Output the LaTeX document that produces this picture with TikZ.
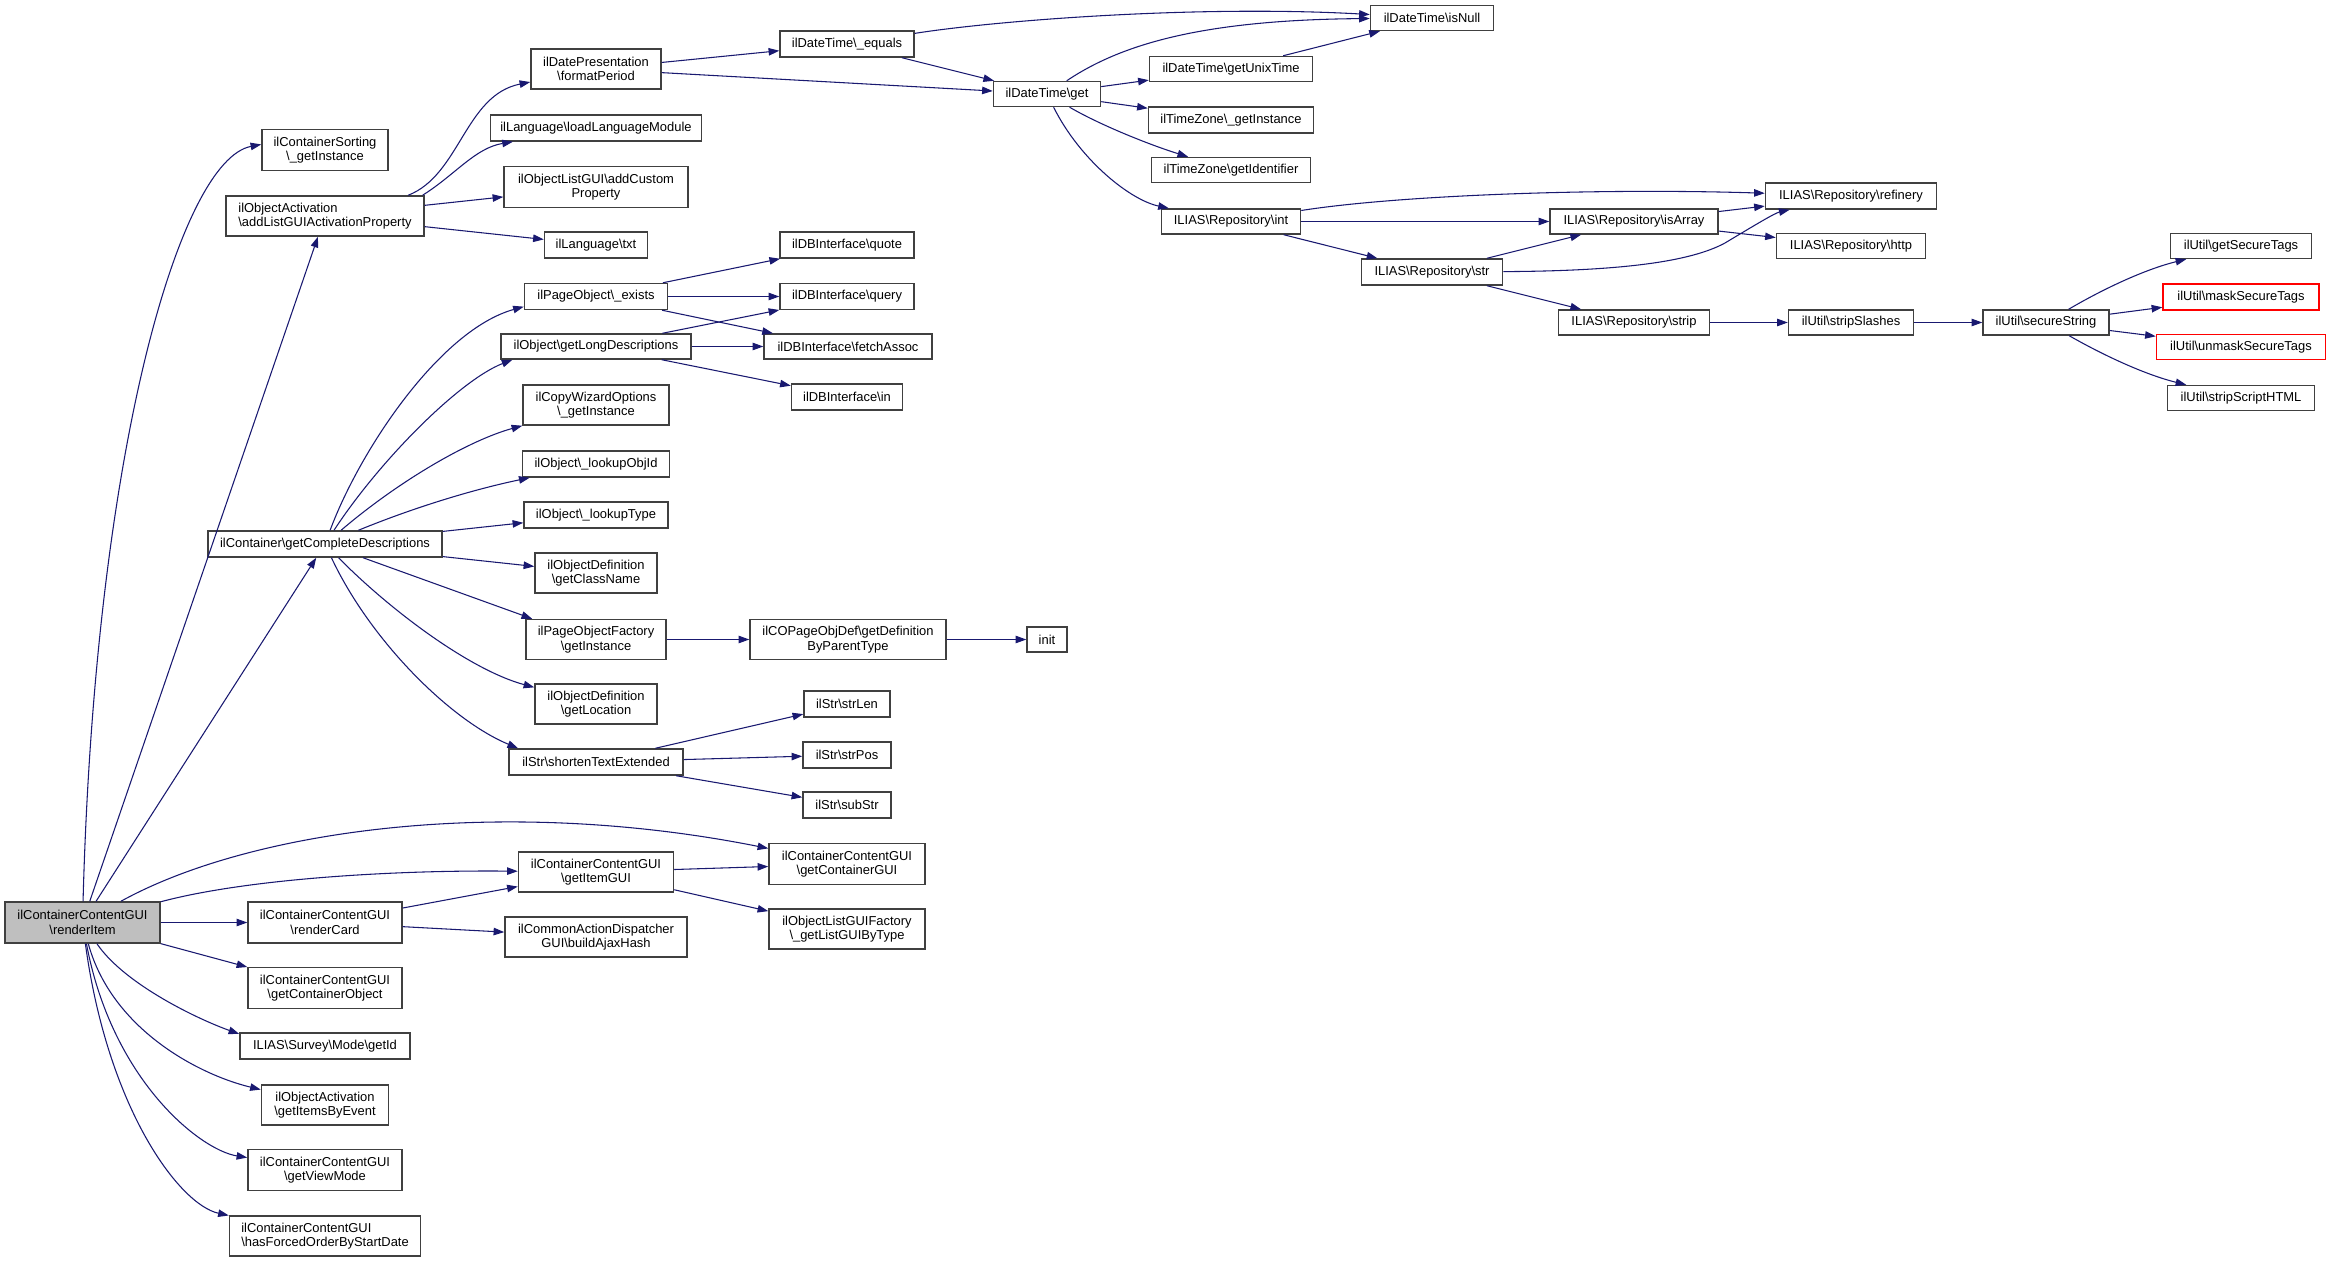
\documentclass[tikz,border=0pt]{standalone}
\usepackage{fontspec}
\setmainfont{Liberation Sans}
\usetikzlibrary{arrows.meta}
\definecolor{edgec}{HTML}{191970}
\definecolor{boxc}{HTML}{404040}
\definecolor{rootc}{HTML}{BFBFBF}
\newcommand\bs{\textbackslash}
\newcommand\nd[7][]{\node[box,minimum width=#5*0.75pt,minimum height=#6*0.75pt,#1] (#2) at (#3,#4) {#7};}
\begin{document}
\begin{tikzpicture}[x=0.75pt,y=-0.75pt,
  box/.style={draw=boxc, line width=1.1pt, fill=white, inner sep=0pt,
    font=\fontsize{9.7}{11}\selectfont, align=center},
  edge/.style={draw=edgec, line width=0.8pt, -{Triangle[length=8pt,width=5.6pt]}}]
\useasboundingbox (0,0) rectangle (2329,1262);
% column 0
\nd[fill=rootc]{root}{82.5}{922.5}{155}{41}{ilContainerContentGUI\\\bs renderItem}
% column 1
\nd{sorting}{325}{150}{126}{41}{ilContainerSorting\\\bs\_getInstance}
\nd[align=left]{actprop}{325}{216}{198}{40}{ilObjectActivation\\\bs addListGUIActivationProperty}
\nd{compdesc}{325}{544}{234}{26}{ilContainer\bs getCompleteDescriptions}
\nd{renderCard}{325}{922.5}{154}{41}{ilContainerContentGUI\\\bs renderCard}
\nd{contObj}{325}{988}{154}{41}{ilContainerContentGUI\\\bs getContainerObject}
\nd{surveyId}{325}{1046}{170}{26}{ILIAS\bs Survey\bs Mode\bs getId}
\nd{itemsByEvent}{325}{1105}{127}{40}{ilObjectActivation\\\bs getItemsByEvent}
\nd{viewMode}{325}{1170}{154}{41}{ilContainerContentGUI\\\bs getViewMode}
\nd[align=left]{hasForced}{325}{1236}{191}{40}{ilContainerContentGUI\\\bs hasForcedOrderByStartDate}
% column 2
\nd{formatPeriod}{596}{69}{130}{40}{ilDatePresentation\\\bs formatPeriod}
\nd{loadLang}{596}{128}{211}{26}{ilLanguage\bs loadLanguageModule}
\nd{addCustom}{596}{187}{184}{41}{ilObjectListGUI\bs addCustom\\Property}
\nd{txt}{596}{245}{103}{26}{ilLanguage\bs txt}
\nd{exists}{596}{296.5}{143}{26}{ilPageObject\bs\_exists}
\nd{longDesc}{596}{346.5}{190}{25}{ilObject\bs getLongDescriptions}
\nd{copyWiz}{596}{405}{146}{40}{ilCopyWizardOptions\\\bs\_getInstance}
\nd{lookupObjId}{596}{464}{147}{26}{ilObject\bs\_lookupObjId}
\nd{lookupType}{596}{515}{144}{26}{ilObject\bs\_lookupType}
\nd{className}{596}{573}{122}{40}{ilObjectDefinition\\\bs getClassName}
\nd{pageObjFac}{596}{639.5}{140}{40}{ilPageObjectFactory\\\bs getInstance}
\nd{location}{596}{704}{122}{40}{ilObjectDefinition\\\bs getLocation}
\nd{shorten}{596}{762}{174}{26}{ilStr\bs shortenTextExtended}
\nd{itemGUI}{596}{872}{155}{40}{ilContainerContentGUI\\\bs getItemGUI}
\nd{ajaxHash}{596}{937}{182}{40}{ilCommonActionDispatcher\\GUI\bs buildAjaxHash}
% column 3
\nd{equals}{847}{44}{134}{26}{ilDateTime\bs\_equals}
\nd{quote}{847}{245}{134}{26}{ilDBInterface\bs quote}
\nd{query}{847}{296.5}{134}{26}{ilDBInterface\bs query}
\nd{fetchAssoc}{848}{346.5}{168}{25}{ilDBInterface\bs fetchAssoc}
\nd{in}{847}{397}{111}{26}{ilDBInterface\bs in}
\nd{copage}{848}{639.5}{196}{40}{ilCOPageObjDef\bs getDefinition\\ByParentType}
\nd{strLen}{847}{704}{86}{26}{ilStr\bs strLen}
\nd{strPos}{847}{755}{88}{26}{ilStr\bs strPos}
\nd{subStr}{847}{805}{88}{26}{ilStr\bs subStr}
\nd{contGUI}{847}{864}{156}{41}{ilContainerContentGUI\\\bs getContainerGUI}
\nd{listGUI}{847}{929}{156}{40}{ilObjectListGUIFactory\\\bs\_getListGUIByType}
% column 4
\nd{get}{1047}{94}{107}{25}{ilDateTime\bs get}
\nd{init}{1047}{639.5}{40}{25}{init}
% column 5
\nd{unixTime}{1231}{69}{163}{25}{ilDateTime\bs getUnixTime}
\nd{tzInstance}{1231}{120}{165}{26}{ilTimeZone\bs\_getInstance}
\nd{tzIdent}{1231}{170}{159}{25}{ilTimeZone\bs getIdentifier}
\nd{repInt}{1231}{221.5}{139}{25}{ILIAS\bs Repository\bs int}
% column 6
\nd{isNull}{1432}{18}{123}{25}{ilDateTime\bs isNull}
\nd{repStr}{1432}{272}{141}{26}{ILIAS\bs Repository\bs str}
% column 7
\nd{isArray}{1634}{221.5}{168}{25}{ILIAS\bs Repository\bs isArray}
\nd{strip}{1634}{322.5}{151}{25}{ILIAS\bs Repository\bs strip}
% column 8
\nd{refinery}{1851}{196}{171}{26}{ILIAS\bs Repository\bs refinery}
\nd{http}{1851}{246}{149}{25}{ILIAS\bs Repository\bs http}
\nd{stripSlashes}{1851}{322.5}{125}{25}{ilUtil\bs stripSlashes}
% column 9
\nd{secureString}{2046}{322.5}{126}{25}{ilUtil\bs secureString}
% column 10
\nd{getSecureTags}{2241}{246}{141}{25}{ilUtil\bs getSecureTags}
\nd[draw=red]{mask}{2241}{297}{156}{26}{ilUtil\bs maskSecureTags}
\nd[draw=red]{unmask}{2241}{347}{169}{25}{ilUtil\bs unmaskSecureTags}
\nd{stripScript}{2241}{398}{147}{25}{ilUtil\bs stripScriptHTML}

% edges from renderItem
\draw[edge] (root) .. controls (95,450) and (180,160) .. (sorting.175);
\draw[edge] (root) -- (actprop);
\draw[edge] (root) -- (compdesc);
\draw[edge] (root) .. controls (250,830) and (500,795) .. (contGUI);
\draw[edge] (root) .. controls (250,878) and (400,870) .. (itemGUI);
\draw[edge] (root) -- (renderCard);
\draw[edge] (root) -- (contObj);
\draw[edge] (root) .. controls (125,985) and (200,1020) .. (surveyId.172);
\draw[edge] (root) .. controls (112,1030) and (200,1075) .. (itemsByEvent);
\draw[edge] (root) .. controls (112,1080) and (200,1150) .. (viewMode);
\draw[edge] (root) .. controls (108,1110) and (180,1205) .. (hasForced);
% addListGUIActivationProperty
\draw[edge] (actprop.14) .. controls (460,175) and (465,95) .. (formatPeriod);
\draw[edge] (actprop.12) .. controls (455,175) and (475,148) .. (loadLang);
\draw[edge] (actprop) -- (addCustom);
\draw[edge] (actprop) -- (txt);
% formatPeriod / dates
\draw[edge] (formatPeriod) -- (equals);
\draw[edge] (formatPeriod) -- (get);
\draw[edge] (equals) .. controls (1000,20) and (1200,5) .. (isNull);
\draw[edge] (equals) -- (get);
\draw[edge] (get) .. controls (1120,45) and (1200,20) .. (isNull);
\draw[edge] (get) -- (unixTime);
\draw[edge] (get) -- (tzInstance);
\draw[edge] (get) .. controls (1100,125) and (1150,145) .. (tzIdent);
\draw[edge] (get) .. controls (1080,160) and (1130,200) .. (repInt);
\draw[edge] (unixTime) -- (isNull);
% repository
\draw[edge] (repInt) .. controls (1400,195) and (1600,188) .. (refinery);
\draw[edge] (repInt) -- (isArray);
\draw[edge] (repInt) -- (repStr);
\draw[edge] (repStr) -- (isArray);
\draw[edge] (repStr) .. controls (1620,271) and (1690,262) .. (1725,243)
   .. controls (1755,225) and (1775,213) .. (refinery);
\draw[edge] (repStr) -- (strip);
\draw[edge] (isArray) -- (refinery);
\draw[edge] (isArray) -- (http);
\draw[edge] (strip) -- (stripSlashes);
\draw[edge] (stripSlashes) -- (secureString);
\draw[edge] (secureString) .. controls (2110,285) and (2150,268) .. (getSecureTags);
\draw[edge] (secureString) -- (mask);
\draw[edge] (secureString) -- (unmask);
\draw[edge] (secureString) .. controls (2110,359) and (2150,376) .. (stripScript);
% getCompleteDescriptions
\draw[edge] (compdesc) .. controls (360,450) and (440,330) .. (exists.188);
\draw[edge] (compdesc) .. controls (380,460) and (460,380) .. (longDesc.189);
\draw[edge] (compdesc) .. controls (400,480) and (470,440) .. (copyWiz.south west);
\draw[edge] (compdesc) .. controls (420,505) and (480,488) .. (lookupObjId);
\draw[edge] (compdesc) -- (lookupType);
\draw[edge] (compdesc) -- (className);
\draw[edge] (compdesc) -- (pageObjFac.162);
\draw[edge] (compdesc) .. controls (390,610) and (470,670) .. (location);
\draw[edge] (compdesc) .. controls (370,640) and (450,720) .. (shorten.170);
% db
\draw[edge] (exists) -- (quote);
\draw[edge] (exists) -- (query);
\draw[edge] (exists) -- (fetchAssoc.170);
\draw[edge] (longDesc) -- (query);
\draw[edge] (longDesc) -- (fetchAssoc);
\draw[edge] (longDesc) -- (in);
\draw[edge] (pageObjFac) -- (copage);
\draw[edge] (copage) -- (init);
\draw[edge] (shorten) -- (strLen);
\draw[edge] (shorten) -- (strPos);
\draw[edge] (shorten) -- (subStr);
% render card / item gui
\draw[edge] (renderCard) -- (itemGUI);
\draw[edge] (renderCard) -- (ajaxHash);
\draw[edge] (itemGUI) -- (contGUI);
\draw[edge] (itemGUI) -- (listGUI);
\end{tikzpicture}
\end{document}
